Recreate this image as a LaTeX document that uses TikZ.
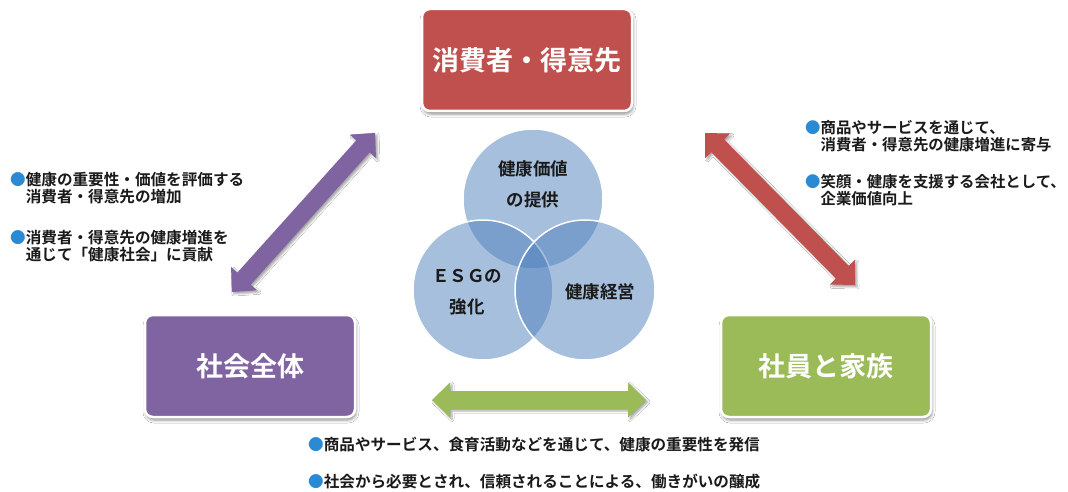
\documentclass[tikz,border=0pt]{standalone}
\usepackage{fontspec}
\setmainfont{Noto Sans CJK JP}[BoldFont={Noto Sans CJK JP Bold}]
\usetikzlibrary{calc,shadows.blur}
\definecolor{cred}{HTML}{C0504D}
\definecolor{cpurple}{HTML}{8064A2}
\definecolor{cgreen}{HTML}{9BBB59}
\definecolor{cblue}{HTML}{4F81BD}
\definecolor{cbullet}{HTML}{2A8AD4}
\definecolor{ctext}{HTML}{1A1A1A}
\newcommand\bu{\textcolor{cbullet}{●}}
\newcommand\bi{\hphantom{●}}
\newcommand\blockarrow[3]{%
  \fill[#3, arrowshadow] (#1)
   -- ($(#1)!18pt!(#2)!17.5pt!90:(#2)$)
   -- ($(#1)!18pt!(#2)!9pt!90:(#2)$)
   -- ($(#2)!18pt!(#1)!9pt!-90:(#1)$)
   -- ($(#2)!18pt!(#1)!17.5pt!-90:(#1)$)
   -- (#2)
   -- ($(#2)!18pt!(#1)!17.5pt!90:(#1)$)
   -- ($(#2)!18pt!(#1)!9pt!90:(#1)$)
   -- ($(#1)!18pt!(#2)!9pt!-90:(#2)$)
   -- ($(#1)!18pt!(#2)!17.5pt!-90:(#2)$)
   -- cycle;}
\tikzset{
  box/.style={draw=white, line width=2.5pt, rounded corners=8pt,
    minimum width=210pt, minimum height=102pt, text=white,
    font=\bfseries\fontsize{27}{30}\selectfont,
    blur shadow={shadow xshift=1pt, shadow yshift=-3pt, shadow blur radius=3pt, shadow opacity=45}},
  arrowshadow/.style={blur shadow={shadow xshift=2pt, shadow yshift=-2pt, shadow blur radius=2pt, shadow opacity=35}},
  circ/.style={circle, minimum size=140pt, inner sep=0pt, fill=cblue, fill opacity=0.5,
    draw=white, draw opacity=1, line width=1.5pt},
  ctxt/.style={text=ctext, align=center, font=\bfseries\fontsize{17.5}{31}\selectfont},
  bul/.style={text=ctext, align=left, anchor=west, inner sep=0pt,
    font=\bfseries\fontsize{15.6}{17}\selectfont},
  bulr/.style={bul, font=\bfseries\fontsize{15.4}{17}\selectfont}
}
\begin{document}
\begin{tikzpicture}[x=1pt,y=-1pt]
\fill[white] (0,0) rectangle (1068,492);
\useasboundingbox (0,0) rectangle (1068,492);

% arrows
\coordinate (P1) at (375,133);
\coordinate (P2) at (232,292);
\coordinate (R1) at (705,133);
\coordinate (R2) at (855,285);
\coordinate (G1) at (432,400);
\coordinate (G2) at (646,400);
\blockarrow{P1}{P2}{cpurple}
\blockarrow{R1}{R2}{cred}
\blockarrow{G1}{G2}{cgreen}

% boxes
\node[box, fill=cred] (top) at (527,60) {\raisebox{2pt}{消費者・得意先}};
\node[box, fill=cpurple] (left) at (250,366) {\raisebox{2pt}{社会全体}};
\node[box, fill=cgreen] (right) at (826,366) {\raisebox{1pt}{社員と家族}};

% circles
\node[circ] (c1) at (533,199) {};
\node[circ] (c2) at (483,290) {};
\node[circ] (c3) at (585,290) {};
\node[ctxt] (t1) at (533,184) {健康価値\\の提供};
\node[ctxt] (t2) at (467,292) {ＥＳＧの\\強化};
\node[ctxt] (t3) at (600,292) {健康経営};

% bullet texts
\node[bul] (l1) at (10,188.5) {\bu 健康の重要性・価値を評価する\\\bi 消費者・得意先の増加};
\node[bul] (l2) at (10,246.5) {\bu 消費者・得意先の健康増進を\\\bi 通じて「健康社会」に貢献};
\node[bulr] (r1) at (805,136.5) {\bu 商品やサービスを通じて、\\\bi 消費者・得意先の健康増進に寄与};
\node[bulr] (r2) at (805,190) {\bu 笑顔・健康を支援する会社として、\\\bi 企業価値向上};
\node[bul] (b1) at (308,445) {\bu 商品やサービス、食育活動などを通じて、健康の重要性を発信};
\node[bul] (b2) at (308,482) {\bu 社会から必要とされ、信頼されることによる、働きがいの醸成};
\end{tikzpicture}
\end{document}
